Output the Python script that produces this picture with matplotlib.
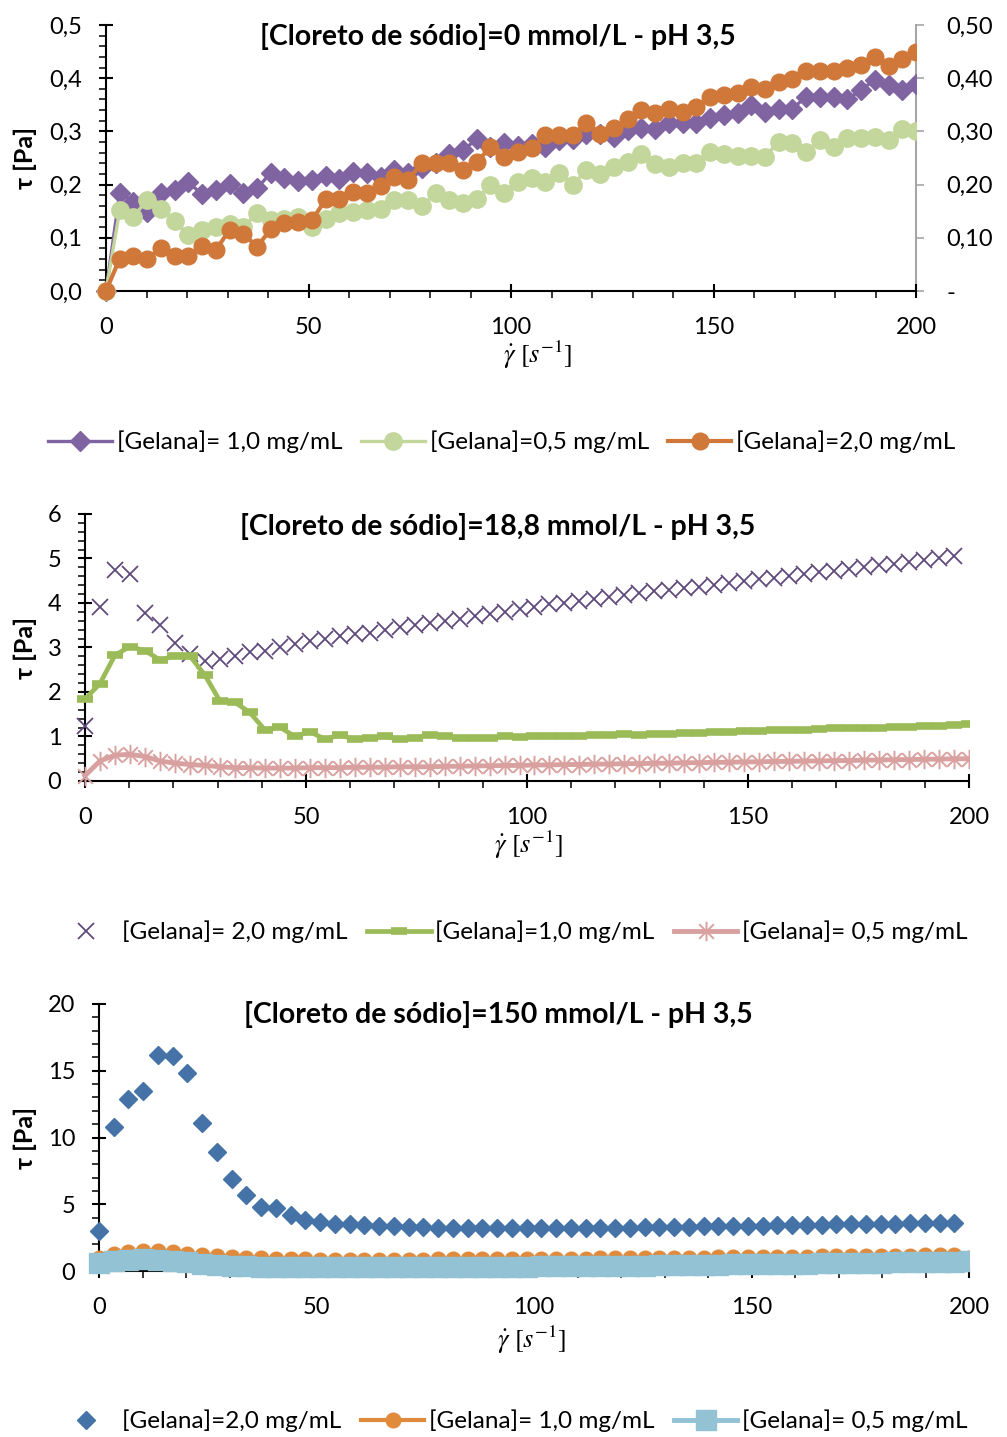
import numpy as np
import matplotlib
matplotlib.use('Agg')
import matplotlib.pyplot as plt
from matplotlib.ticker import MultipleLocator, FuncFormatter
from matplotlib.path import Path
from matplotlib.patches import Rectangle

plt.rcParams['font.family'] = ['Lato', 'DejaVu Sans']
plt.rcParams['mathtext.fontset'] = 'stix'

# ---------------- data ----------------
shear = [0.00, 3.39, 6.78, 10.17, 13.56, 16.95, 20.34, 23.73, 27.12, 30.51,
         33.90, 37.29, 40.68, 44.07, 47.46, 50.85, 54.24, 57.63, 61.02, 64.41,
         67.80, 71.19, 74.58, 77.97, 81.36, 84.75, 88.14, 91.53, 94.92, 98.31,
         101.69, 105.08, 108.47, 111.86, 115.25, 118.64, 122.03, 125.42, 128.81, 132.20,
         135.59, 138.98, 142.37, 145.76, 149.15, 152.54, 155.93, 159.32, 162.71, 166.10,
         169.49, 172.88, 176.27, 179.66, 183.05, 186.44, 189.83, 193.22, 196.61, 200.00]

# Chart 1: NaCl 0 mmol/L
c1_gel10 = [0.0, 0.184, 0.168, 0.149, 0.185, 0.189, 0.204, 0.182, 0.189, 0.201,
            0.185, 0.193, 0.222, 0.212, 0.206, 0.209, 0.216, 0.210, 0.224, 0.222,
            0.215, 0.227, 0.222, 0.231, 0.241, 0.258, 0.265, 0.285, 0.271, 0.278,
            0.273, 0.276, 0.271, 0.284, 0.285, 0.295, 0.295, 0.290, 0.303, 0.306,
            0.304, 0.315, 0.316, 0.315, 0.325, 0.331, 0.334, 0.350, 0.337, 0.343,
            0.343, 0.365, 0.365, 0.365, 0.360, 0.378, 0.397, 0.387, 0.378, 0.390]
c1_gel05 = [0.0, 0.152, 0.140, 0.171, 0.155, 0.132, 0.105, 0.115, 0.121, 0.126,
            0.121, 0.146, 0.133, 0.136, 0.140, 0.121, 0.136, 0.146, 0.149, 0.152,
            0.155, 0.171, 0.171, 0.159, 0.184, 0.171, 0.165, 0.172, 0.199, 0.184,
            0.204, 0.213, 0.204, 0.222, 0.200, 0.227, 0.220, 0.234, 0.243, 0.258,
            0.239, 0.234, 0.240, 0.240, 0.262, 0.258, 0.254, 0.254, 0.252, 0.281,
            0.278, 0.262, 0.283, 0.271, 0.287, 0.287, 0.289, 0.284, 0.304, 0.300]
c1_gel20 = [0.0, 0.061, 0.065, 0.061, 0.080, 0.066, 0.066, 0.085, 0.077, 0.115,
            0.108, 0.083, 0.116, 0.127, 0.130, 0.133, 0.172, 0.172, 0.187, 0.185,
            0.197, 0.215, 0.209, 0.240, 0.241, 0.240, 0.227, 0.243, 0.270, 0.252,
            0.262, 0.268, 0.293, 0.293, 0.293, 0.316, 0.296, 0.306, 0.323, 0.340,
            0.334, 0.343, 0.337, 0.346, 0.365, 0.368, 0.372, 0.383, 0.379, 0.392,
            0.398, 0.414, 0.414, 0.414, 0.419, 0.425, 0.439, 0.423, 0.437, 0.450]

# Chart 2: NaCl 18,8 mmol/L
c2_gel20 = [1.23, 3.90, 4.75, 4.65, 3.78, 3.50, 3.10, 2.85, 2.70, 2.75,
            2.82, 2.90, 2.92, 3.00, 3.07, 3.15, 3.20, 3.25, 3.30, 3.33,
            3.40, 3.45, 3.50, 3.55, 3.60, 3.65, 3.70, 3.75, 3.80, 3.87,
            3.92, 3.97, 4.00, 4.05, 4.10, 4.13, 4.18, 4.22, 4.26, 4.30,
            4.33, 4.37, 4.40, 4.45, 4.50, 4.53, 4.57, 4.60, 4.65, 4.70,
            4.73, 4.77, 4.80, 4.85, 4.88, 4.92, 4.96, 5.00, 5.06, np.nan]
c2_gel10 = [1.84, 2.19, 2.83, 3.02, 2.93, 2.72, 2.81, 2.81, 2.38, 1.80,
            1.77, 1.54, 1.15, 1.21, 1.00, 1.11, 0.94, 1.03, 0.94, 0.96,
            1.00, 0.94, 0.97, 1.03, 1.01, 0.96, 0.96, 0.97, 1.00, 0.99,
            1.00, 1.01, 1.02, 1.01, 1.03, 1.04, 1.05, 1.04, 1.06, 1.06,
            1.08, 1.08, 1.09, 1.10, 1.12, 1.13, 1.14, 1.15, 1.15, 1.17,
            1.18, 1.19, 1.19, 1.20, 1.21, 1.22, 1.23, 1.24, 1.25, 1.27]
c2_gel05 = [0.12, 0.45, 0.58, 0.60, 0.55, 0.45, 0.40, 0.37, 0.35, 0.32,
            0.30, 0.30, 0.29, 0.29, 0.29, 0.30, 0.30, 0.30, 0.31, 0.31,
            0.31, 0.32, 0.32, 0.32, 0.33, 0.33, 0.34, 0.34, 0.35, 0.35,
            0.36, 0.36, 0.37, 0.37, 0.38, 0.38, 0.39, 0.39, 0.40, 0.40,
            0.41, 0.41, 0.42, 0.42, 0.43, 0.43, 0.44, 0.44, 0.45, 0.45,
            0.46, 0.46, 0.47, 0.47, 0.48, 0.48, 0.49, 0.49, 0.50, 0.50]

# Chart 3: NaCl 150 mmol/L
c3_gel20 = [3.00, 10.80, 12.90, 13.45, 16.20, 16.10, 14.80, 11.10, 8.95, 6.90,
            5.70, 4.80, 4.70, 4.20, 3.80, 3.65, 3.55, 3.50, 3.45, 3.40,
            3.35, 3.30, 3.30, 3.25, 3.25, 3.25, 3.20, 3.20, 3.20, 3.20,
            3.20, 3.20, 3.20, 3.22, 3.22, 3.25, 3.25, 3.27, 3.30, 3.30,
            3.32, 3.35, 3.35, 3.37, 3.40, 3.40, 3.42, 3.45, 3.45, 3.47,
            3.50, 3.50, 3.52, 3.55, 3.55, 3.57, 3.60, 3.60, 3.62, np.nan]
c3_gel10 = [1.00, 1.25, 1.40, 1.50, 1.50, 1.40, 1.30, 1.20, 1.10, 1.05,
            1.00, 0.95, 0.92, 0.90, 0.88, 0.85, 0.85, 0.85, 0.85, 0.85,
            0.85, 0.86, 0.86, 0.87, 0.87, 0.88, 0.88, 0.89, 0.89, 0.90,
            0.90, 0.91, 0.92, 0.93, 0.94, 0.95, 0.96, 0.97, 0.98, 0.99,
            1.00, 1.01, 1.02, 1.03, 1.04, 1.05, 1.06, 1.07, 1.08, 1.09,
            1.10, 1.11, 1.12, 1.13, 1.14, 1.15, 1.17, 1.18, 1.20, 1.00]
c3_gel05 = [0.60, 0.75, 0.85, 0.87, 0.85, 0.75, 0.65, 0.55, 0.45, 0.40,
            0.35, 0.32, 0.30, 0.30, 0.28, 0.27, 0.27, 0.27, 0.28, 0.28,
            0.28, 0.29, 0.29, 0.30, 0.30, 0.31, 0.31, 0.32, 0.33, 0.33,
            0.34, 0.35, 0.36, 0.37, 0.38, 0.39, 0.40, 0.41, 0.42, 0.43,
            0.45, 0.46, 0.47, 0.49, 0.50, 0.51, 0.53, 0.54, 0.55, 0.57,
            0.58, 0.60, 0.61, 0.63, 0.64, 0.66, 0.67, 0.69, 0.70, 0.72]

titles = ["[Cloreto de sódio]=0 mmol/L - pH 3,5",
          "[Cloreto de sódio]=18,8 mmol/L - pH 3,5",
          "[Cloreto de sódio]=150 mmol/L - pH 3,5"]
labels1 = ["[Gelana]= 1,0 mg/mL", "[Gelana]=0,5 mg/mL", "[Gelana]=2,0 mg/mL"]
labels2 = ["[Gelana]= 2,0 mg/mL", "[Gelana]=1,0 mg/mL", "[Gelana]= 0,5 mg/mL"]
labels3 = ["[Gelana]=2,0 mg/mL", "[Gelana]= 1,0 mg/mL", "[Gelana]= 0,5 mg/mL"]

# ---------------- figure ----------------
W, H = 1007, 1437
fig = plt.figure(figsize=(W / 100, H / 100), dpi=100)

TICK_FS = 17
LEG_FS = 17.5


def ax_px(l, r, t, b):
    return fig.add_axes([l / W, 1 - b / H, (r - l) / W, (b - t) / H])


def comma(dec):
    return FuncFormatter(lambda v, p: (f"{v:.{dec}f}").replace('.', ','))


def style(ax, ymax, ymaj, ymin, fmt):
    ax.set_xlim(0, 200)
    ax.set_ylim(0, ymax)
    ax.xaxis.set_major_locator(MultipleLocator(50))
    ax.xaxis.set_minor_locator(MultipleLocator(10))
    ax.yaxis.set_major_locator(MultipleLocator(ymaj))
    ax.yaxis.set_minor_locator(MultipleLocator(ymin))
    ax.yaxis.set_major_formatter(fmt)
    for s in ['top', 'right']:
        ax.spines[s].set_visible(False)
    for s in ['left', 'bottom']:
        ax.spines[s].set_linewidth(1.5)
    ax.tick_params(which='major', direction='inout', length=10, width=1.5,
                   labelsize=TICK_FS, pad=12)
    ax.tick_params(axis='x', which='major', pad=14)
    ax.tick_params(which='minor', direction='out', length=5, width=1.1)
    ax.patch.set_alpha(0)


def clip(ax, artists):
    for a in artists:
        a.set_clip_path(Rectangle((-0.1, -0.1), 1.1, 1.2, transform=ax.transAxes))


def px2fig(x, y):
    return x / W, 1 - y / H


star = Path([(0, -1), (0, 1), (-0.75, -0.75), (0.75, 0.75), (-0.75, 0.75), (0.75, -0.75)],
            [Path.MOVETO, Path.LINETO, Path.MOVETO, Path.LINETO, Path.MOVETO, Path.LINETO])

# ---- chart 1 ----
ax1 = ax_px(106, 916, 25, 291)
style(ax1, 0.5, 0.1, 0.02, comma(1))
l1 = ax1.plot(shear, c1_gel10, color='#8064A2', lw=2.4, marker='D', ms=10.5,
              label=labels1[0])
l2 = ax1.plot(shear, c1_gel05, color='#C3D69B', lw=2.4, marker='o', ms=12.5,
              label=labels1[1])
l3 = ax1.plot(shear, c1_gel20, color='#D0783A', lw=3, marker='o', ms=12,
              label=labels1[2])
clip(ax1, l1 + l2 + l3)
ax1r = ax1.twinx()
ax1r.set_ylim(0, 0.5)
ax1r.yaxis.set_major_locator(MultipleLocator(0.1))
ax1r.yaxis.set_major_formatter(FuncFormatter(
    lambda v, p: '-' if abs(v) < 1e-9 else f"{v:.2f}".replace('.', ',')))
for s in ['top', 'left', 'bottom']:
    ax1r.spines[s].set_visible(False)
ax1r.spines['right'].set_color('#A6A6A6')
ax1r.spines['right'].set_linewidth(1.5)
ax1r.tick_params(axis='y', direction='out', length=6, width=1.2, color='#A6A6A6',
                 labelsize=TICK_FS, pad=16)
ax1.set_zorder(ax1r.get_zorder() + 1)

# ---- chart 2 ----
ax2 = ax_px(85, 969, 514, 781)
style(ax2, 6, 1, 0.2, FuncFormatter(lambda v, p: f"{v:.0f}"))
m1 = ax2.plot(shear, c2_gel20, color='#604A7B', ls='none', marker='x', ms=12,
              mew=1.3, label=labels2[0])
m2 = ax2.plot(shear, c2_gel10, color='#9BBB59', lw=3.4, marker='_', ms=12,
              mew=5.5, label=labels2[1])
m3 = ax2.plot(shear, c2_gel05, color='#D9A0A0', lw=3.5, marker=star, ms=14,
              mew=1.4, fillstyle='none', label=labels2[2])
clip(ax2, m1 + m2 + m3)

# ---- chart 3 ----
ax3 = ax_px(99, 969, 1004, 1271)
style(ax3, 20, 5, 1, FuncFormatter(lambda v, p: f"{v:.0f}"))
n1 = ax3.plot(shear, c3_gel20, color='#4572A7', ls='none', marker='D', ms=9.5,
              label=labels3[0])
n2 = ax3.plot(shear, c3_gel10, color='#E08A3C', lw=3, marker='o', ms=10.5,
              label=labels3[1])
n3 = ax3.plot(shear, c3_gel05, color='#92C2D4', lw=3.5, marker='s', ms=15,
              label=labels3[2])
clip(ax3, n1 + n2 + n3)
for a in (ax1, ax2, ax3):
    for ln in a.get_lines():
        ln.set_zorder(3)

# ---- texts ----
for ty, t in zip([37, 526, 1015], titles):
    fig.text(*px2fig(498, ty), t, ha='center', va='center', fontsize=20.5,
             fontweight='bold')
for (lx, ly) in [(538, 355), (529, 845), (532, 1340)]:
    fig.text(*px2fig(lx, ly), r'$\dot{\gamma}\ [s^{-1}]$', ha='center', va='center',
             fontsize=19)
for ly in [158, 648, 1138]:
    fig.text(*px2fig(25, ly), 'τ [Pa]', rotation=90, ha='center', va='center',
             fontsize=18, fontweight='bold')

# ---- legends ----
for ax, (cx, cy) in [(ax1, (502, 442)), (ax2, (511, 932)), (ax3, (511, 1421))]:
    h, lab = ax.get_legend_handles_labels()
    fig.legend(h, lab, loc='center', bbox_to_anchor=px2fig(cx, cy), ncol=3,
               frameon=False, fontsize=LEG_FS, handlelength=2.6, handletextpad=0.2,
               columnspacing=0.8, borderpad=0, borderaxespad=0)

fig.savefig('out.png', dpi=100)
